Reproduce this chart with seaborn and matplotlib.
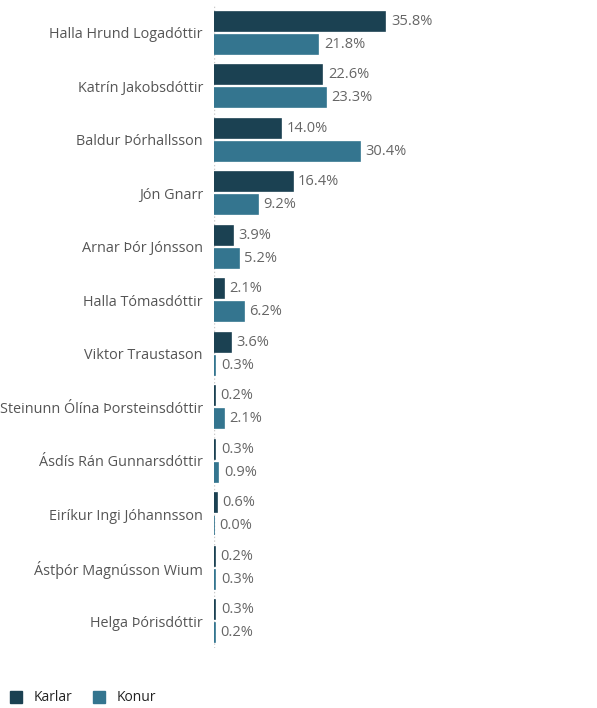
import pandas as pd
import matplotlib.pyplot as plt
import seaborn as sns
from matplotlib.lines import Line2D

candidates = ["Halla Hrund Logadóttir", "Katrín Jakobsdóttir", "Baldur Þórhallsson",
              "Jón Gnarr", "Arnar Þór Jónsson", "Halla Tómasdóttir", "Viktor Traustason",
              "Steinunn Ólína Þorsteinsdóttir", "Ásdís Rán Gunnarsdóttir",
              "Eiríkur Ingi Jóhannsson", "Ástþór Magnússon Wium", "Helga Þórisdóttir"]
karlar = [35.8, 22.6, 14.0, 16.4, 3.9, 2.1, 3.6, 0.2, 0.3, 0.6, 0.2, 0.3]
konur = [21.8, 23.3, 30.4, 9.2, 5.2, 6.2, 0.3, 2.1, 0.9, 0.0, 0.3, 0.2]
groups = ["Karlar", "Konur"]
colors = ["#1b4152", "#34758f"]

df = pd.DataFrame({
    "candidate": candidates * 2,
    "value": karlar + konur,
    "group": ["Karlar"] * len(candidates) + ["Konur"] * len(candidates),
})

sns.set_style("white")
plt.rcParams['font.family'] = ['Open Sans', 'DejaVu Sans']

fig = plt.figure(figsize=(5.97, 7.08), dpi=100)
ax = fig.add_axes([214 / 597, 60 / 708, 383 / 597, 642 / 708])

sns.barplot(df, y="candidate", x="value", hue="group", palette=colors,
            hue_order=groups, orient="h", width=0.86, gap=0.17, ax=ax,
            legend=False, linewidth=1.2, saturation=1)
for cont, c in zip(ax.containers, colors):
    for bar in cont:
        bar.set_edgecolor(c)
    ax.bar_label(cont, fmt="%.1f%%", padding=4, fontsize=10.5, color="#666666")

ax.set_xlim(0, 80)
ax.set_ylim(11.5, -0.5)
ax.axvline(0, color="#cccccc", linestyle=":", linewidth=1, zorder=0)
sns.despine(ax=ax, left=True, bottom=True)
ax.set_xticks([])
ax.set_xlabel("")
ax.set_ylabel("")
ax.tick_params(axis="y", length=0, pad=8, labelsize=10.4, labelcolor="#555555")

handles = [Line2D([], [], marker="s", linestyle="", markersize=9, color=c) for c in colors]
fig.legend(handles, groups, loc="lower left", bbox_to_anchor=(-0.018, -0.014), ncol=2,
           frameon=False, fontsize=10, handletextpad=0.3, columnspacing=0.9,
           labelcolor="#222222")

fig.savefig("out.png", dpi=100)
